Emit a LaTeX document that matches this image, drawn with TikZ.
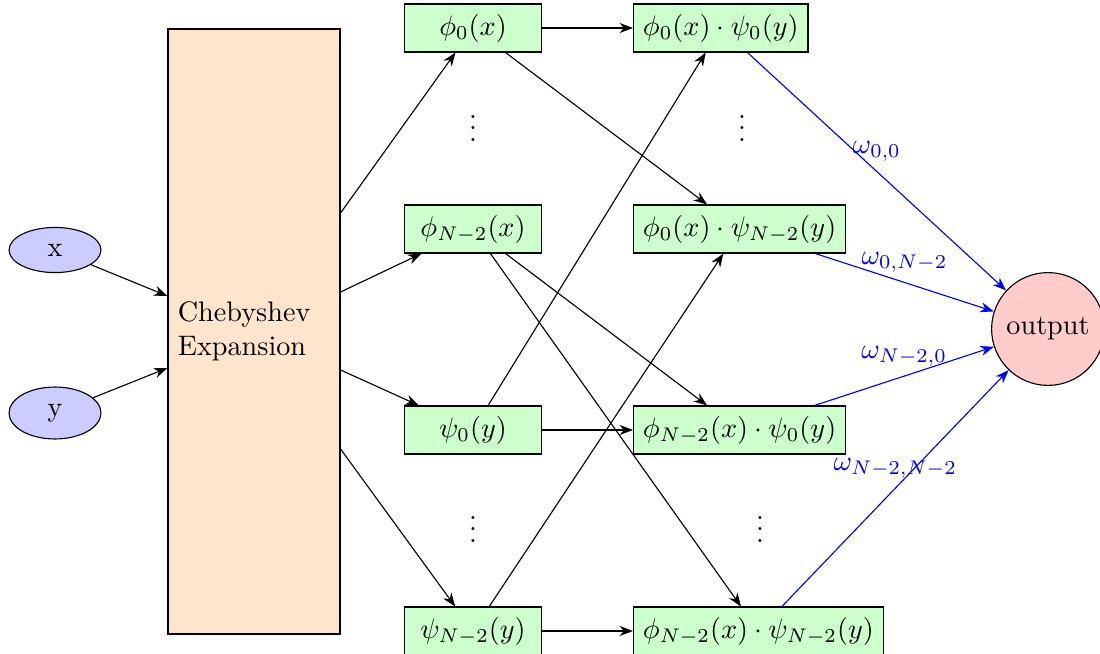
\documentclass[tikz,border=0pt]{standalone}
\usetikzlibrary{shapes.geometric,calc,arrows.meta}
\begin{document}
\begin{tikzpicture}[x=0.3546pt,y=-0.3546pt,
  inp/.style={ellipse,draw,fill=blue!20,minimum width=32.6pt,minimum height=16pt},
  chebbox/.style={rectangle,draw,fill=orange!20,minimum width=61pt,minimum height=214.5pt,text width=54pt,align=left},
  basis/.style={rectangle,draw,fill=green!20,minimum width=48.6pt,minimum height=17pt},
  prod/.style={rectangle,draw,fill=green!20,minimum height=17pt,anchor=west},
  outn/.style={circle,draw,fill=red!20,minimum size=40pt},
  arr/.style={-{Stealth}},
  warr/.style={-{Stealth},blue},
  wlab/.style={midway,above,blue}
]
\useasboundingbox (0,0) rectangle (1100,654);
\clip (0,0) rectangle (1100,654);

% inputs
\node[inp] (x) at (55,250) {x};
\node[inp] (y) at (55,413) {y};

% expansion block
\node[chebbox] (cheb) at (254,331.5) {Chebyshev\\Expansion};
\coordinate (ix) at ($(cheb.west)+(0,-35.5)$);
\coordinate (iy) at ($(cheb.west)+(0,36.5)$);
\coordinate (e1) at ($(cheb.east)+(0,-118.5)$);
\coordinate (e2) at ($(cheb.east)+(0,-39.5)$);
\coordinate (e3) at ($(cheb.east)+(0,38.5)$);
\coordinate (e4) at ($(cheb.east)+(0,117.5)$);

% one-dimensional basis functions
\node[basis] (p0) at (473,28) {$\phi_0(x)$};
\node[basis] (pN) at (473,229) {$\phi_{N-2}(x)$};
\node[basis] (q0) at (473,430) {$\psi_0(y)$};
\node[basis] (qN) at (473,631) {$\psi_{N-2}(y)$};
\node (d1) at (473,120) {$\vdots$};
\node (d2) at (473,521) {$\vdots$};

% tensor products
\node[prod] (p0q0) at (633,28) {$\phi_0(x)\cdot\psi_0(y)$};
\node[prod] (p0qN) at (633,229) {$\phi_0(x)\cdot\psi_{N-2}(y)$};
\node[prod] (pNq0) at (633,430) {$\phi_{N-2}(x)\cdot\psi_0(y)$};
\node[prod] (pNqN) at (633,631) {$\phi_{N-2}(x)\cdot\psi_{N-2}(y)$};
\node (d3) at (742,120) {$\vdots$};
\node (d4) at (760,521) {$\vdots$};

% output
\node[outn] (out) at (1048,329) {output};

% connections
\draw[arr] (x) -- (ix);
\draw[arr] (y) -- (iy);
\draw[arr] (e1) -- (p0);
\draw[arr] (e2) -- (pN);
\draw[arr] (e3) -- (q0);
\draw[arr] (e4) -- (qN);

\draw[arr] (p0) -- (p0q0);
\draw[arr] (p0) -- (p0qN);
\draw[arr] (pN) -- (pNq0);
\draw[arr] (pN) -- (pNqN);
\draw[arr] (q0) -- (p0q0);
\draw[arr] (q0) -- (pNq0);
\draw[arr] (qN) -- (p0qN);
\draw[arr] (qN) -- (pNqN);

\draw[warr] (p0q0) -- node[wlab] {$\omega_{0,0}$} (out);
\draw[warr] (p0qN) -- node[wlab] {$\omega_{0,N-2}$} (out);
\draw[warr] (pNq0) -- node[wlab] {$\omega_{N-2,0}$} (out);
\draw[warr] (pNqN) -- node[wlab] {$\omega_{N-2,N-2}$} (out);
\end{tikzpicture}
\end{document}
